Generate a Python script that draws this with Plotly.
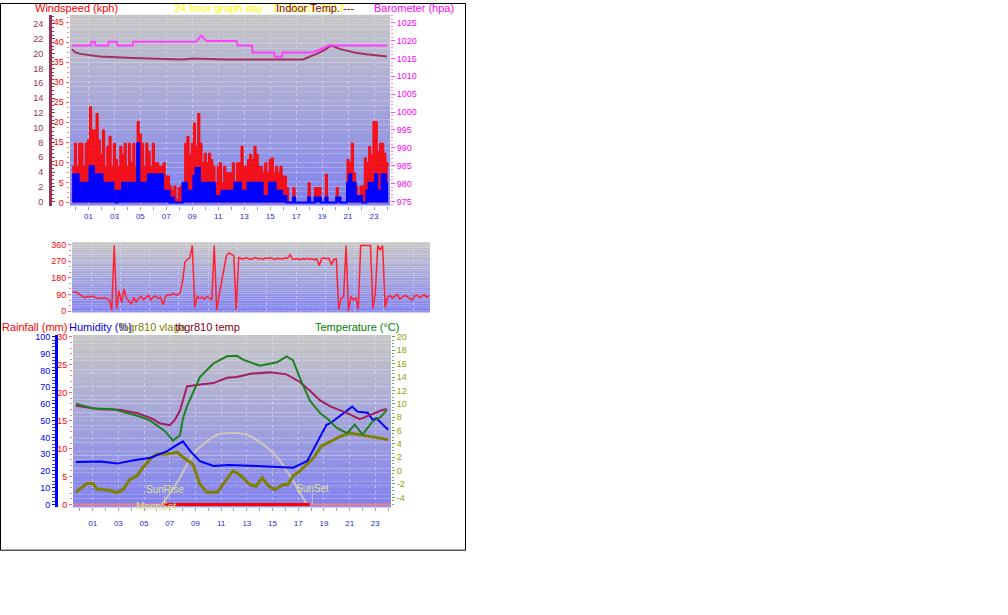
import plotly.graph_objects as go

W, H = 1008, 615
def px(x): return x / W
def py(y): return 1 - y / H

# ---------------- data ----------------
tick_hours = [1, 3, 5, 7, 9, 11, 13, 15, 17, 19, 21, 23]
tick_labels = ['01', '03', '05', '07', '09', '11', '13', '15', '17', '19', '21', '23']
minor_hours = list(range(0, 25))

# wind (10 minute samples, kph)
wind_start = -0.25
gust = [9.0, 14.8, 9.0, 14.8, 14.8, 9.0, 14.8, 15.6, 23.9, 18.1,
        18.1, 22.2, 15.6, 12.0, 18.1, 9.0, 14.0, 16.5, 9.0, 14.8,
        10.7, 9.0, 14.0, 12.0, 14.8, 9.0, 14.8, 9.9, 14.8, 9.0,
        20.2, 17.0, 14.8, 9.0, 14.8, 12.8, 9.0, 14.8, 9.9, 9.9,
        9.0, 9.0, 9.9, 6.6, 6.6, 4.1, 2.9, 4.1, 0.8, 3.7,
        4.1, 2.9, 14.8, 16.5, 12.0, 14.8, 19.8, 14.0, 22.2, 14.8,
        9.9, 12.3, 9.9, 12.3, 10.7, 9.0, 4.9, 9.0, 9.9, 4.9,
        9.0, 7.4, 7.4, 7.4, 9.9, 5.3, 9.9, 9.9, 14.0, 9.0,
        9.0, 10.7, 12.0, 10.7, 14.0, 12.0, 9.0, 9.0, 7.4, 9.9,
        7.4, 10.7, 11.1, 7.4, 9.0, 7.4, 9.0, 6.6, 6.6, 3.7,
        0, 0, 3.7, 0, 0, 0, 0, 0, 0, 4.9,
        0, 0, 3.7, 3.7, 3.7, 0, 0, 7.0, 0, 0,
        0, 0, 3.7, 0, 0, 0, 0, 10.7, 9.9, 14.8,
        7.4, 4.1, 0, 4.1, 4.1, 11.1, 9.9, 14.0, 12.0, 20.2,
        20.2, 12.8, 14.8, 14.8, 12.3, 9.9, 9.0]
avg = [7.0, 7.0, 7.0, 4.9, 2.9, 4.9, 4.9, 4.9, 9.0, 9.0,
       7.0, 7.0, 7.0, 7.0, 4.9, 4.9, 4.9, 4.9, 4.9, 2.9,
       0, 2.9, 2.9, 4.9, 4.9, 2.9, 4.9, 4.9, 4.9, 4.9,
       14.8, 4.9, 4.9, 4.9, 4.9, 7.0, 7.0, 7.0, 7.0, 7.0,
       7.0, 7.0, 2.9, 2.9, 2.9, 0, 1.2, 0, 0, 0,
       0, 4.9, 4.9, 2.9, 2.9, 2.9, 6.6, 8.6, 8.6, 4.9,
       4.9, 4.9, 4.9, 4.9, 4.9, 4.9, 1.6, 1.6, 1.6, 2.9,
       2.9, 2.9, 2.9, 2.9, 2.9, 4.9, 4.9, 4.9, 2.9, 2.9,
       2.9, 4.9, 4.9, 4.9, 4.9, 4.9, 4.9, 4.9, 1.6, 1.6,
       1.6, 4.9, 4.9, 4.9, 2.9, 2.9, 2.9, 1.6, 1.6, 0,
       0, 0, 1.2, 0, 0, 0, 0, 0, 0, 1.2,
       0, 0, 1.2, 1.2, 1.2, 0, 0, 1.2, 0, 0,
       0, 0, 1.2, 1.2, 0, 0, 0, 4.9, 7.0, 4.9,
       4.9, 1.6, 1.6, 1.6, 0, 0, 2.9, 4.9, 4.9, 4.9,
       7.0, 2.9, 2.9, 7.0, 7.0, 4.9, 4.9]
wind_dir = [105, 102, 100, 88, 80, 72, 80, 76, 82, 74,
            70, 72, 68, 73, 66, 60, 5, 355, 15, 110,
            45, 120, 70, 55, 40, 75, 50, 70, 80, 62,
            72, 85, 60, 78, 82, 70, 75, 35, 80, 90,
            85, 95, 90, 88, 100, 160, 265, 280, 288, 355,
            20, 80, 70, 76, 65, 80, 72, 60, 355, 5,
            90, 160, 220, 300, 315, 305, 300, 5, 290, 285,
            282, 288, 284, 280, 286, 290, 283, 285, 281, 287,
            284, 289, 283, 280, 286, 284, 282, 288, 285, 305,
            282, 280, 284, 279, 283, 281, 285, 280, 283, 278,
            282, 245, 285, 287, 283, 286, 250, 280, 282, 10,
            70, 78, 355, 0, 80, 60, 75, 10, 355, 355,
            355, 355, 355, 15, 98, 355, 330, 355, 20, 75,
            85, 70, 80, 90, 65, 75, 85, 80, 70, 60,
            80, 88, 72, 80, 90, 75, 85]
wind_hours = [wind_start + i / 6 for i in range(len(gust))]

# barometer (hpa) and indoor temp (C)
baro_hours = [-0.27, 1.2, 1.25, 1.5, 1.55, 2.5, 2.55, 3.2, 3.25, 4.4, 4.45,
              9.3, 9.5, 9.7, 9.9, 10.1, 12.4, 12.5, 13.6, 13.65, 15.3, 15.35,
              15.9, 15.95, 17.2, 17.25, 18.3, 19.5, 24.0]
baro_vals = [1018.6, 1018.6, 1019.7, 1019.7, 1018.6, 1018.6, 1019.7, 1019.7, 1018.6,
             1018.6, 1019.7, 1019.7, 1020.6, 1021.4, 1020.6, 1019.9, 1019.9, 1018.6,
             1018.6, 1016.7, 1016.7, 1015.5, 1015.5, 1016.7, 1016.7, 1016.7, 1016.7,
             1018.6, 1018.6]
indoor_hours = [-0.27, -0.04, 0.35, 0.96, 1.88, 4.42, 6.27, 8.27, 9.04, 11.65, 17.5,
                18.0, 18.5, 19.2, 19.7, 20.4, 21.0, 21.6, 22.4, 23.2, 24.0]
indoor_temp = [20.6, 20.2, 19.96, 19.8, 19.6, 19.4, 19.35, 19.2, 19.35, 19.2, 19.2,
               19.5, 19.9, 20.5, 21.1, 20.6, 20.3, 20.1, 19.9, 19.75, 19.6]

# bottom panel
temp_hours = [-0.3, 1.03, 2.58, 3.67, 4.68, 5.46, 6.24, 6.63, 7.25, 7.8, 8.03, 8.34,
              9.35, 10.37, 11.45, 12.23, 12.7, 14.02, 15.35, 16.1, 16.6, 17.1, 17.9,
              18.7, 19.25, 20.0, 20.8, 21.4, 22.0, 22.8, 23.4, 23.9]
temp_out = [10.0, 9.3, 9.2, 8.6, 8.1, 7.5, 6.5, 5.9, 4.5, 5.3, 7.8, 9.6,
            14.0, 16.0, 17.1, 17.2, 16.6, 15.7, 16.2, 17.1, 16.5, 14.0, 10.5,
            8.6, 7.8, 6.4, 5.6, 6.9, 5.4, 7.4, 8.0, 9.1]
thgr_hours = [-0.3, 1.6, 3.1, 4.5, 5.6, 6.2, 7.0, 7.4, 7.8, 8.34, 9.35, 10.4, 11.45,
              12.2, 13.3, 14.8, 16.1, 17.1, 17.9, 18.7, 19.5, 20.8, 21.8, 22.6, 23.6, 23.9]
thgr_temp = [9.7, 9.2, 9.1, 8.6, 7.8, 7.1, 6.8, 7.6, 9.0, 12.6, 12.9, 13.1, 13.9,
             14.0, 14.5, 14.7, 14.4, 13.3, 12.0, 10.5, 9.6, 8.6, 7.7, 8.3, 9.1, 9.2]
hum_hours = [-0.3, 1.6, 2.9, 4.1, 5.5, 6.8, 7.6, 8.03, 8.6, 9.35, 10.4, 11.6, 13.8,
             16.6, 17.7, 18.5, 19.2, 19.5, 20.5, 21.2, 21.6, 22.4, 22.8, 23.1, 23.6, 24.0]
humidity = [25.4, 25.6, 24.4, 26.3, 27.9, 31.8, 35.7, 37.7, 31.8, 25.9, 23.0, 23.5, 23.0,
            22.0, 25.9, 37.7, 47.5, 48.5, 54.4, 58.4, 55.4, 54.8, 50.5, 51.5, 47.5, 44.6]
vlaga_hours = [-0.3, 0.56, 1.03, 1.34, 2.35, 2.9, 3.4, 3.9, 4.45, 4.9, 5.46, 6.0, 6.8,
               7.6, 8.03, 8.8, 9.35, 9.9, 10.7, 11.5, 11.9, 12.2, 12.7, 13.2, 13.7, 14.2,
               14.7, 15.2, 15.8, 16.2, 16.6, 17.1, 17.7, 18.2, 18.8, 19.5, 20.3, 21.0,
               21.8, 22.6, 23.4, 24.0]
vlaga = [7.3, 12.6, 12.6, 9.2, 8.4, 7.0, 9.2, 15.0, 17.1, 22.0, 26.9, 30.2, 30.2,
         31.1, 28.2, 24.0, 12.1, 7.3, 7.3, 16.0, 20.0, 19.0, 16.0, 12.1, 10.8, 16.0,
         10.8, 8.9, 11.8, 12.1, 17.0, 19.8, 24.0, 27.9, 34.8, 37.7, 40.7, 42.6,
         41.6, 40.7, 39.7, 38.7]
sun_hours = [6.4, 6.8, 7.8, 8.8, 9.9, 10.7, 11.5, 12.3, 13.0, 14.3, 15.4, 16.1, 16.9, 17.7, 17.9]
sun_level = [0, 4.3, 16.1, 29.8, 37.7, 41.6, 42.6, 42.6, 41.6, 35.7, 27.9, 20.0, 10.2, 0.4, 0]
rain_hours = [6.5, 17.9]
rain_mm = [0, 0]
rain_bg_hours = [-0.53, 24.22]
rain_bg_mm = [0, 0]
sunrise_h, sunset_h, moonset_h = 6.6, 18.1, 5.9
temp_ticks = [-4, -2, 0, 2, 4, 6, 8, 10, 12, 14, 16, 18, 20]

# ---------------- figure ----------------
fig = go.Figure()

# top panel
fig.add_trace(go.Scatter(x=wind_hours, y=gust, mode='lines', line=dict(color='rgba(255,0,0,0.9)', width=1, shape='hv'),
                         fill='tozeroy', fillcolor='rgba(255,0,0,0.88)', xaxis='x', yaxis='y'))
fig.add_trace(go.Scatter(x=wind_hours, y=avg, mode='lines', line=dict(color='#0000ff', width=2, shape='hv'),
                         fill='tozeroy', fillcolor='#0000ff', xaxis='x', yaxis='y'))
fig.add_trace(go.Scatter(x=indoor_hours, y=indoor_temp, mode='lines', line=dict(color='#a03060', width=2),
                         xaxis='x', yaxis='y2'))
fig.add_trace(go.Scatter(x=baro_hours, y=baro_vals, mode='lines', line=dict(color='#ff40ff', width=2),
                         xaxis='x', yaxis='y3'))

# middle panel
fig.add_trace(go.Scatter(x=wind_hours, y=wind_dir, mode='lines', line=dict(color='#ff2030', width=1.5),
                         xaxis='x2', yaxis='y4'))

# bottom panel
fig.add_trace(go.Scatter(x=rain_bg_hours, y=rain_bg_mm, mode='lines', line=dict(color='#f08080', width=2),
                         xaxis='x3', yaxis='y7'))
fig.add_trace(go.Scatter(x=rain_hours, y=rain_mm, mode='lines', line=dict(color='#ff0000', width=3),
                         xaxis='x3', yaxis='y7'))
fig.add_trace(go.Scatter(x=sun_hours, y=sun_level, mode='lines', line=dict(color='rgba(220,212,175,0.75)', width=2),
                         line_shape='spline', xaxis='x3', yaxis='y6'))
fig.add_trace(go.Scatter(x=vlaga_hours, y=vlaga, mode='lines', line=dict(color='#808000', width=3),
                         xaxis='x3', yaxis='y6'))
fig.add_trace(go.Scatter(x=hum_hours, y=humidity, mode='lines', line=dict(color='#0000ff', width=2),
                         xaxis='x3', yaxis='y6'))
fig.add_trace(go.Scatter(x=thgr_hours, y=thgr_temp, mode='lines', line=dict(color='#a02060', width=2),
                         xaxis='x3', yaxis='y8'))
fig.add_trace(go.Scatter(x=temp_hours, y=temp_out, mode='lines', line=dict(color='#208020', width=2),
                         xaxis='x3', yaxis='y8'))

FONT = 'Liberation Sans, Arial, sans-serif'
tickf = dict(family=FONT, size=9)
grid = dict(showgrid=True, gridcolor='rgba(230,230,250,0.5)', griddash='dot', gridwidth=1)
hgrid = dict(showgrid=True, gridcolor='rgba(230,230,250,0.22)', griddash='dot')

def xaxis(dom, anchor, rng, labels=True, standoff=0):
    d = dict(domain=dom, anchor=anchor, range=rng, zeroline=False, showline=False,
             tickmode='array', tickvals=tick_hours, ticktext=tick_labels,
             ticks='outside' if labels else '', ticklen=3, tickcolor='#a0a0a0',
             showticklabels=labels, tickfont=dict(family=FONT, size=8, color='#2828e0'),
             **grid)
    if labels:
        d['minor'] = dict(tickmode='array', tickvals=minor_hours, ticks='outside', ticklen=3,
                          tickcolor='#a0a0a0', showgrid=False)
        if standoff:
            d['ticklabelstandoff'] = standoff
    return d

def yaxis(**kw):
    base = dict(zeroline=False, showgrid=False, tickmode='linear', ticks='outside', ticklen=3)
    base.update(kw)
    return base

top_dom = [py(205), py(12)]
mid_dom = [py(313), py(242)]
bot_dom = [py(510), py(335.7)]

fig.update_layout(
    width=W, height=H, margin=dict(l=0, r=0, t=0, b=0),
    paper_bgcolor='white', plot_bgcolor='rgba(0,0,0,0)', showlegend=False,
    xaxis=xaxis([px(70), px(390)], 'y', [-0.42, 24.23]),
    xaxis2=xaxis([px(72), px(430)], 'y4', [-0.3, 24.15], labels=False),
    xaxis3=xaxis([px(73), px(391)], 'y6', [-0.53, 24.22], standoff=5),
    yaxis=yaxis(domain=top_dom, anchor='free', position=px(68.5), range=[-0.815, 46.84],
                tick0=0, dtick=5, tickcolor='#ff6060', tickfont=dict(tickf, color='#ff0000'),
                minor=dict(dtick=1.25, ticklen=2, tickcolor='#ff8080', ticks='outside'), **hgrid),
    yaxis2=yaxis(domain=top_dom, overlaying='y', anchor='free', position=px(50), side='left',
                 range=[-0.53, 25.23], tick0=0, dtick=2, ticks='inside', tickcolor='#993355',
                 showline=True, linewidth=3, linecolor='#993355', ticklabelstandoff=4,
                 tickfont=dict(tickf, color='#993355'),
                 minor=dict(dtick=0.5, ticklen=2, tickcolor='#993355', ticks='inside')),
    yaxis3=yaxis(domain=top_dom, overlaying='y', anchor='x', side='right',
                 range=[973.8, 1027.2], tick0=975, dtick=5, tickcolor='#ff40ff', ticklen=4,
                 tickfont=dict(tickf, color='#ff00ff'),
                 minor=dict(dtick=1, ticklen=2, tickcolor='#ff80ff', ticks='outside')),
    yaxis4=yaxis(domain=mid_dom, anchor='x2', range=[-6.9, 372.3], tick0=0, dtick=90,
                 tickcolor='#ff6060', tickfont=dict(tickf, color='#ff0000'),
                 minor=dict(dtick=30, ticklen=2, tickcolor='#ff8080', ticks='outside'), **hgrid),
    yaxis5=yaxis(domain=mid_dom, overlaying='y4', anchor='x2', side='right', range=[-6.9, 372.3],
                 tickmode='array', tickvals=[0, 90, 180, 270, 360], ticktext=['N', 'E', 'S', 'W', 'N'],
                 ticks='', ticklabelstandoff=8, tickfont=dict(family=FONT, size=13, color='#ff0000')),
    yaxis6=yaxis(domain=bot_dom, anchor='free', position=px(56), range=[-1.6, 101.2],
                 tick0=0, dtick=10, tickcolor='#0000ff', showline=True, linewidth=3, linecolor='#0000ff',
                 tickfont=dict(tickf, color='#0000ff'),
                 minor=dict(dtick=2, ticklen=3, tickcolor='#4040ff', ticks='outside'), **hgrid),
    yaxis7=yaxis(domain=bot_dom, overlaying='y6', anchor='free', position=px(72), range=[-0.48, 30.36],
                 tick0=0, dtick=5, tickcolor='#ff6060', tickfont=dict(tickf, color='#ff0000'),
                 minor=dict(dtick=1, ticklen=2, tickcolor='#ff8080', ticks='outside')),
    yaxis8=yaxis(domain=bot_dom, overlaying='y6', anchor='x3', side='right', range=[-5.47, 20.31],
                 tickmode='array', tickvals=temp_ticks, ticktext=[str(v) for v in temp_ticks],
                 tickcolor='#60b060', tickfont=dict(tickf, color='#90a000'),
                 minor=dict(tickmode='array', tickvals=[v / 2 for v in range(-10, 41)],
                            ticklen=2, tickcolor='#60b060', ticks='outside')),
)

# gradient backgrounds (styling only)
shapes = []
top_c, bot_c = (198, 198, 198), (130, 130, 240)
nb = 40
for xr, yr in [('x domain', 'y domain'), ('x2 domain', 'y4 domain'), ('x3 domain', 'y6 domain')]:
    for k in range(nb):
        f = k / (nb - 1)
        c = tuple(int(top_c[j] + (bot_c[j] - top_c[j]) * f) for j in range(3))
        shapes.append(dict(type='rect', xref=xr, yref=yr, x0=0, x1=1,
                           y0=1 - (k + 1) / nb, y1=1 - k / nb, layer='below',
                           line=dict(width=0), fillcolor='rgb(%d,%d,%d)' % c))
    shapes.append(dict(type='line', xref=xr, yref=yr, x0=0, x1=1, y0=0, y1=0, layer='below',
                       line=dict(color='rgb(200,200,250)', width=1)))
# sunset / moonset markers
shapes.append(dict(type='line', xref='x3', yref='y6', x0=sunset_h, x1=sunset_h, y0=0, y1=8,
                   line=dict(color='rgba(220,212,175,0.75)', width=1)))
shapes.append(dict(type='line', xref='x3', yref='y6', x0=sunrise_h, x1=sunrise_h, y0=0, y1=5,
                   line=dict(color='rgba(220,212,175,0.75)', width=1)))
# outer frame
shapes.append(dict(type='rect', xref='paper', yref='paper', x0=px(0.5), x1=px(465.5),
                   y0=py(553.5), y1=py(0.5), line=dict(color='black', width=1)))
fig.update_layout(shapes=shapes)

def label(text, x, y, color, size=11):
    return dict(text=text, x=px(x), y=py(y), xref='paper', yref='paper', xanchor='left',
                yanchor='middle', showarrow=False, font=dict(family=FONT, size=size, color=color))

ann = [
    label('Windspeed (kph)', 33, 5, '#ff0000'),
    label('24 hour graph day : 11 March 2017', 172, 5, '#ffff00'),
    label('Indoor Temp. ---', 274, 5, '#800020'),
    label('Barometer (hpa)', 372, 5, '#ff00ff'),
    label('Rainfall (mm)', 0, 328, '#ff0000'),
    label('Humidity (%)', 67, 328, '#0000ff'),
    label('thgr810 vlaga', 117, 328, '#808000'),
    label('thgr810 temp', 173, 328, '#800020'),
    label('Temperature (°C)', 313, 328, '#008000'),
]
sunf = dict(family=FONT, size=10, color='#e0e090')
ann += [
    dict(text='SunRise', x=sunrise_h, y=8.9, xref='x3', yref='y6', showarrow=False, font=sunf),
    dict(text='SunSet', x=sunset_h, y=9.6, xref='x3', yref='y6', showarrow=False, font=sunf),
    dict(text='MoonSet', x=moonset_h, y=0, yshift=-2, xref='x3', yref='y6', showarrow=False, font=sunf),
]
fig.update_layout(annotations=ann)

fig.write_html('out.html', config={'displayModeBar': False},
               post_script="document.body.style.margin='0';document.body.style.overflow='hidden';")
